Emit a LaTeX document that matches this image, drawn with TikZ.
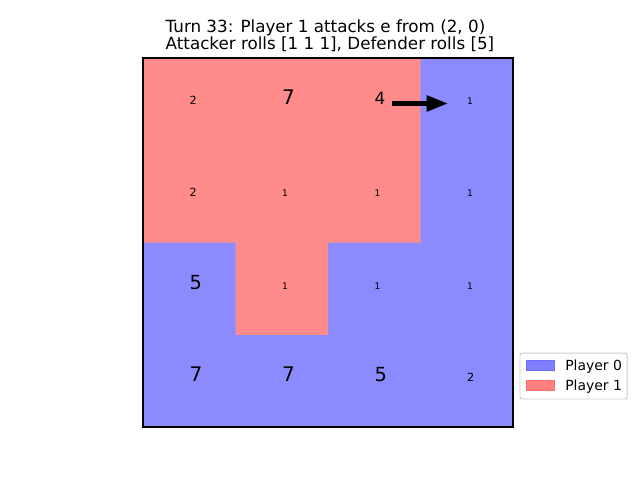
\documentclass[tikz,border=0pt]{standalone}
\usepackage{fontspec}
\setmainfont{DejaVu Sans}
\usetikzlibrary{arrows.meta, positioning}
\definecolor{playerred}{HTML}{FF8B8B}
\definecolor{playerblue}{HTML}{8B8BFF}
\definecolor{legendred}{HTML}{FF7F7F}
\definecolor{legendblue}{HTML}{7F7FFF}
\definecolor{legendedge}{HTML}{CCCCCC}
\tikzset{cellval/.style={anchor=base west, inner sep=0pt, text=black, font=\fontsize{#1pt}{#1pt}\selectfont}}
\tikzstyle{titleline} = [anchor=base, inner sep=0pt, font=\fontsize{11.9pt}{14pt}\selectfont]
\tikzstyle{attack} = [line width=3.6pt, -{Triangle[length=15.4pt, width=10.7pt]}, black]
\tikzstyle{patch} = [rectangle, inner sep=0pt, minimum width=19.9pt, minimum height=7.1pt, line width=0.7pt]
\tikzstyle{legendtext} = [anchor=base west, inner sep=0pt, font=\fontsize{9.9pt}{12pt}\selectfont]

\begin{document}
\begin{tikzpicture}[x=0.025cm, y=-0.025cm]
    \useasboundingbox (0,0) rectangle (640,480);

    % Title
    \node[titleline] (title1) at (325.5,32.7) {Turn 33: Player 1 attacks e from (2, 0)};
    \node[titleline] (title2) at (330,49.3) {Attacker rolls [1 1 1], Defender rolls [5]};

    % Board
    \fill[playerblue] (143,58) rectangle (513,427);
    \fill[playerred] (143,58) -- (420.5,58) -- (420.5,242.5) -- (328,242.5) -- (328,334.75)
        -- (235.5,334.75) -- (235.5,242.5) -- (143,242.5) -- cycle;
    \draw[line width=0.79pt] (143,58) rectangle (513,427);

    % Row 0
    \node[cellval=8] (c00) at (189.25,104.1) {2};
    \node[cellval=14.3] (c10) at (281.75,104.1) {7};
    \node[cellval=12] (c20) at (374.25,104.1) {4};
    \node[cellval=6.5] (c30) at (466.75,104.1) {1};
    % Row 1
    \node[cellval=8] (c01) at (189.25,196.6) {2};
    \node[cellval=6.5] (c11) at (281.75,196.6) {1};
    \node[cellval=6.5] (c21) at (374.25,196.6) {1};
    \node[cellval=6.5] (c31) at (466.75,196.6) {1};
    % Row 2
    \node[cellval=13.8] (c02) at (189.25,289.1) {5};
    \node[cellval=6.5] (c12) at (281.75,289.1) {1};
    \node[cellval=6.5] (c22) at (374.25,289.1) {1};
    \node[cellval=6.5] (c32) at (466.75,289.1) {1};
    % Row 3
    \node[cellval=14.3] (c03) at (189.25,381.6) {7};
    \node[cellval=14.3] (c13) at (281.75,381.6) {7};
    \node[cellval=13.8] (c23) at (374.25,381.6) {5};
    \node[cellval=8] (c33) at (466.75,381.6) {2};

    % Attack arrow
    \coordinate (from) at (391.7,103.5);
    \coordinate (to) at (448.3,103.5);
    \draw[attack] (from) -- (to);

    % Legend
    \node[rectangle, rounded corners=1.5pt, draw=legendedge, fill=white, line width=0.7pt,
        minimum width=76.1pt, minimum height=32.7pt, inner sep=0pt] (legend) at (573.5,376) {};
    \node[patch, fill=legendblue, draw=legendblue!85!blue] (patch0) at (540,365) {};
    \node[patch, fill=legendred, draw=legendred!85!red] (patch1) at (540,385.5) {};
    \node[legendtext] (label0) at (565,370) {Player 0};
    \node[legendtext] (label1) at (565,390.5) {Player 1};
\end{tikzpicture}
\end{document}
